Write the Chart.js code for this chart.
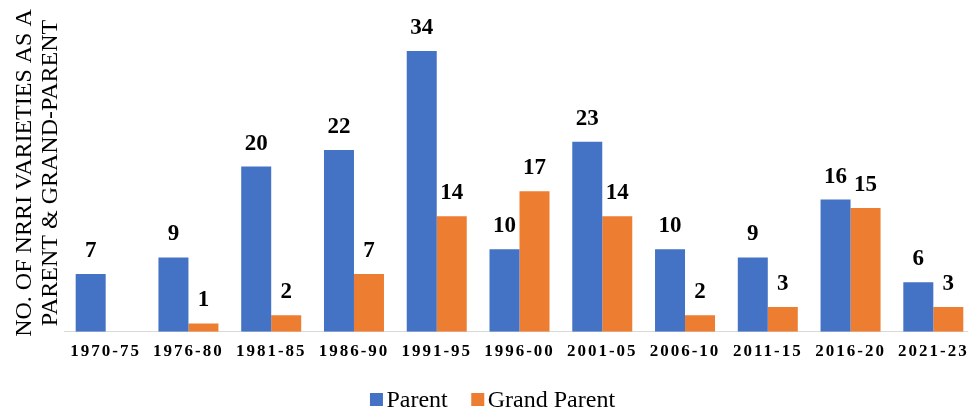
<!DOCTYPE html>
<html><head><meta charset="utf-8">
<script src="https://cdn.jsdelivr.net/npm/chart.js@4.4.1/dist/chart.umd.min.js"></script>
<style>html,body{margin:0;padding:0;overflow:hidden;background:#fff;} #wrap{position:relative;width:976px;height:408px;}</style>
</head><body><div id="wrap"><canvas id="c"></canvas></div>
<script>
const categories = ['1970-75','1976-80','1981-85','1986-90','1991-95','1996-00','2001-05','2006-10','2011-15','2016-20','2021-23'];
const parentValues = [7, 9, 20, 22, 34, 10, 23, 10, 9, 16, 6];
const grandParentValues = [null, 1, 2, 7, 14, 17, 14, 2, 3, 15, 3];
const seriesNames = ['Parent', 'Grand Parent'];
const yTitleLines = ['NO. OF NRRI VARIETIES AS A', 'PARENT & GRAND-PARENT'];
const yMin = 0, yMax = 40;

const SERIF = "'Liberation Serif', 'Times New Roman', serif";
const BLUE = '#4472C4', ORANGE = '#ED7D31';

const spacingPlugin = {
  id: 'spacing',
  beforeDraw(chart) { chart.ctx.letterSpacing = '2px'; },
  beforeDatasetsDraw(chart) { chart.ctx.letterSpacing = '0px'; }
};

const valueLabels = {
  id: 'valueLabels',
  afterDatasetsDraw(chart) {
    const ctx = chart.ctx;
    ctx.save();
    ctx.letterSpacing = '0px';
    ctx.font = 'bold 23px ' + SERIF;
    ctx.fillStyle = '#000';
    ctx.textAlign = 'center';
    ctx.textBaseline = 'alphabetic';
    chart.data.datasets.forEach((ds, di) => {
      const meta = chart.getDatasetMeta(di);
      meta.data.forEach((bar, i) => {
        const v = ds.data[i];
        if (v === null || v === undefined) return;
        ctx.fillText(String(v), bar.x, bar.y - 17);
      });
    });
    ctx.restore();
  }
};

const yTitle = {
  id: 'yTitle',
  afterDraw(chart) {
    const ctx = chart.ctx;
    ctx.save();
    ctx.letterSpacing = '0px';
    ctx.font = '24px ' + SERIF;
    ctx.fillStyle = '#000';
    ctx.textAlign = 'center';
    ctx.textBaseline = 'alphabetic';
    const cy = 173;
    const baselines = [31, 57];
    yTitleLines.forEach((line, i) => {
      ctx.save();
      ctx.translate(baselines[i], cy);
      ctx.rotate(-Math.PI / 2);
      ctx.fillText(line, 0, 0);
      ctx.restore();
    });
    ctx.restore();
  }
};

const customLegend = {
  id: 'customLegend',
  afterDraw(chart) {
    const ctx = chart.ctx;
    ctx.save();
    ctx.letterSpacing = '0px';
    ctx.font = '24px ' + SERIF;
    ctx.textBaseline = 'alphabetic';
    ctx.textAlign = 'left';
    const box = 13, gapBoxText = 3.5, gapItems = 23.5;
    const items = chart.data.datasets.map(ds => ({ label: ds.label, color: ds.backgroundColor, w: ctx.measureText(ds.label).width }));
    let total = 0;
    items.forEach((it, i) => { total += box + gapBoxText + it.w + (i < items.length - 1 ? gapItems : 0); });
    let x = 492.5 - total / 2;
    const boxTop = 393, base = 406.5;
    items.forEach(it => {
      ctx.fillStyle = it.color;
      ctx.fillRect(x, boxTop, box, box);
      x += box + gapBoxText;
      ctx.fillStyle = '#000';
      ctx.fillText(it.label, x, base);
      x += it.w + gapItems;
    });
    ctx.restore();
  }
};

function build() {
  new Chart(document.getElementById('c'), {
    type: 'bar',
    data: {
      labels: categories,
      datasets: [
        { label: seriesNames[0], data: parentValues, backgroundColor: BLUE, categoryPercentage: 0.725, barPercentage: 1.0 },
        { label: seriesNames[1], data: grandParentValues, backgroundColor: ORANGE, categoryPercentage: 0.725, barPercentage: 1.0 }
      ]
    },
    options: {
      responsive: true,
      maintainAspectRatio: false,
      animation: false,
      layout: { padding: { left: 64.3, right: 1.3, top: 1.5, bottom: 0 } },
      plugins: { legend: { display: false }, tooltip: { enabled: false } },
      scales: {
        x: {
          grid: { display: false, drawTicks: false },
          border: { display: true, color: '#D9D9D9', width: 1 },
          ticks: { color: '#000', font: { family: SERIF, size: 17, weight: 'bold' }, padding: 10, maxRotation: 0, autoSkip: false },
          afterFit(s) { s.height = 76.3; }
        },
        y: {
          min: yMin, max: yMax,
          display: true,
          grid: { display: false, drawTicks: false },
          border: { display: false },
          ticks: { display: false },
          afterFit(s) { s.width = 0; }
        }
      }
    },
    plugins: [spacingPlugin, valueLabels, yTitle, customLegend]
  });
}

Promise.all([
  document.fonts.load("24px 'Liberation Serif'"),
  document.fonts.load("bold 23px 'Liberation Serif'")
]).then(build, build);
</script>
</body></html>
